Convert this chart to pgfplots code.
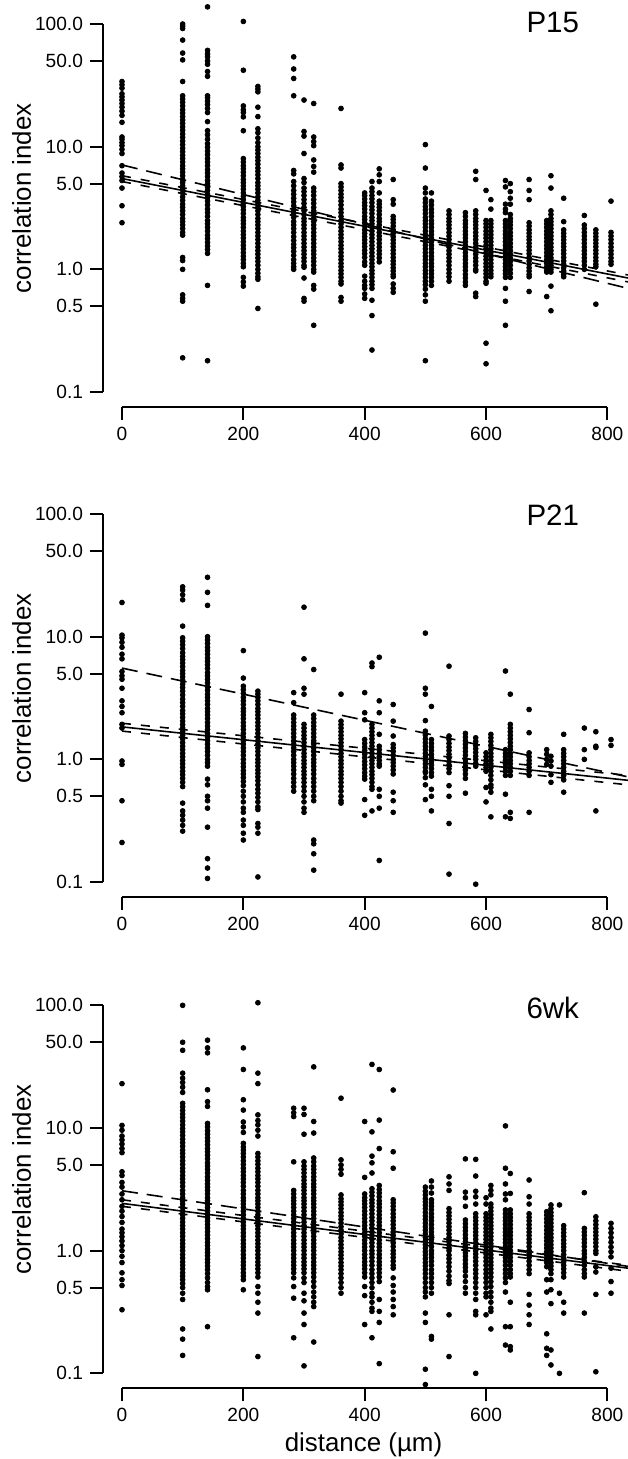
\documentclass[border=0pt]{standalone}
\usepackage{fontspec}
\setmainfont{Liberation Sans}
\usepackage{pgfplots}
\usepackage{pgfplotstable}
\pgfplotsset{compat=1.18}

% P15
\pgfplotstableread[row sep=\\]{
x y\\
0 34\\0 32\\0 30\\0 27\\0 25.5\\0 24\\0 22.5\\0 21\\0 19.5\\0 18\\0 15.8\\0 12\\0 11.5\\0 10.8\\0 10.2\\0 9.5\\0 8.8\\0 7\\0 6.1\\0 5.7\\0 5.3\\0 4.6\\0 3.3\\0 2.4\\
100 100\\100 96\\100 92\\100 74\\100 58\\100 51\\100 34\\100 26\\100 24.5\\100 23\\100 21.5\\100 20\\100 18.8\\100 17.6\\100 16.5\\100 15.5\\100 14.5\\100 13.6\\100 12.7\\100 11.9\\100 11.1\\100 10.4\\100 9.7\\100 9.1\\100 8.5\\100 8\\100 7.5\\100 7\\100 6.6\\100 6.2\\100 5.8\\100 5.4\\100 5.1\\100 4.8\\100 4.5\\100 4.2\\100 3.9\\100 3.65\\100 3.4\\100 3.2\\100 3\\100 2.8\\100 2.6\\100 2.45\\100 2.3\\100 2.15\\100 2\\100 1.9\\100 1.25\\100 1.18\\100 1.0\\100 0.62\\100 0.58\\100 0.55\\100 0.19\\
141 138\\141 61\\141 57\\141 54\\141 50\\141 47\\141 41\\141 37.5\\141 26\\141 25\\141 23.5\\141 22\\141 20.5\\141 19\\141 16\\141 13.5\\141 12.5\\141 11.5\\141 10.6\\141 9.9\\141 9.2\\141 8.6\\141 8\\141 7.5\\141 7\\141 6.5\\141 6.1\\141 5.7\\141 5.3\\141 5\\141 4.7\\141 4.4\\141 4.1\\141 3.85\\141 3.6\\141 3.35\\141 3.1\\141 2.9\\141 2.7\\141 2.5\\141 2.35\\141 2.2\\141 2.05\\141 1.9\\141 1.78\\141 1.66\\141 1.55\\141 1.45\\141 1.35\\141 0.74\\141 0.18\\
200 105\\200 42\\200 21.5\\200 20\\200 19\\200 17.5\\200 13.5\\200 8\\200 7.5\\200 7\\200 6.6\\200 6.2\\200 5.8\\200 5.4\\200 5.1\\200 4.8\\200 4.5\\200 4.2\\200 3.95\\200 3.7\\200 3.45\\200 3.25\\200 3.05\\200 2.85\\200 2.65\\200 2.5\\200 2.35\\200 2.2\\200 2.05\\200 1.92\\200 1.8\\200 1.68\\200 1.57\\200 1.47\\200 1.37\\200 1.28\\200 1.2\\200 1.12\\200 1.05\\200 0.86\\200 0.79\\200 0.73\\
224 31\\224 29.5\\224 28\\224 21\\224 17.6\\224 14\\224 13\\224 11.8\\224 10.8\\224 10\\224 9.4\\224 8.8\\224 8.2\\224 7.7\\224 7.2\\224 6.7\\224 6.3\\224 5.9\\224 5.5\\224 5.1\\224 4.8\\224 4.5\\224 4.2\\224 3.9\\224 3.65\\224 3.4\\224 3.2\\224 3\\224 2.8\\224 2.6\\224 2.45\\224 2.3\\224 2.15\\224 2\\224 1.87\\224 1.75\\224 1.63\\224 1.52\\224 1.42\\224 1.33\\224 1.24\\224 1.16\\224 1.08\\224 1.0\\224 0.93\\224 0.87\\224 0.83\\224 0.48\\
283 54\\283 43\\283 36\\283 26\\283 6.4\\283 6\\283 5.2\\283 4.8\\283 4.4\\283 4.1\\283 3.8\\283 3.55\\283 3.3\\283 3.05\\283 2.85\\283 2.65\\283 2.45\\283 2.3\\283 2.15\\283 2\\283 1.85\\283 1.72\\283 1.6\\283 1.5\\283 1.4\\283 1.3\\283 1.2\\283 1.12\\283 1.05\\283 1.0\\
300 24\\300 13.3\\300 12.2\\300 8.8\\300 5.5\\300 5.1\\300 4.6\\300 4.3\\300 4\\300 3.7\\300 3.45\\300 3.2\\300 3\\300 2.8\\300 2.6\\300 2.45\\300 2.3\\300 2.15\\300 2\\300 1.87\\300 1.75\\300 1.63\\300 1.52\\300 1.42\\300 1.33\\300 1.24\\300 1.16\\300 1.08\\300 1.04\\300 0.85\\300 0.58\\300 0.55\\
316 22.5\\316 12\\316 11\\316 10.2\\316 7.8\\316 6.9\\316 6.2\\316 4.6\\316 4.3\\316 4\\316 3.7\\316 3.45\\316 3.2\\316 3\\316 2.8\\316 2.6\\316 2.45\\316 2.3\\316 2.15\\316 2\\316 1.87\\316 1.75\\316 1.63\\316 1.52\\316 1.42\\316 1.33\\316 1.24\\316 1.16\\316 1.08\\316 1.0\\316 0.95\\316 0.74\\316 0.69\\316 0.35\\
361 20.5\\361 7.1\\361 6.7\\361 5\\361 4.7\\361 4.4\\361 4.1\\361 3.85\\361 3.6\\361 3.35\\361 3.1\\361 2.9\\361 2.7\\361 2.5\\361 2.35\\361 2.2\\361 2.05\\361 1.92\\361 1.8\\361 1.68\\361 1.57\\361 1.47\\361 1.37\\361 1.28\\361 1.2\\361 1.12\\361 1.05\\361 0.98\\361 0.92\\361 0.86\\361 0.8\\361 0.76\\361 0.59\\361 0.55\\
400 4.2\\400 4\\400 3.75\\400 3.5\\400 3.3\\400 3.1\\400 2.9\\400 2.7\\400 2.55\\400 2.4\\400 2.25\\400 2.1\\400 1.97\\400 1.85\\400 1.74\\400 1.63\\400 1.53\\400 1.43\\400 1.34\\400 1.25\\400 1.15\\400 1.08\\400 0.88\\400 0.8\\400 0.74\\400 0.7\\400 0.63\\400 0.58\\
412 5.2\\412 4.6\\412 4.3\\412 4\\412 3.75\\412 3.5\\412 3.25\\412 3.05\\412 2.85\\412 2.65\\412 2.5\\412 2.35\\412 2.2\\412 2.05\\412 1.92\\412 1.8\\412 1.68\\412 1.57\\412 1.47\\412 1.37\\412 1.28\\412 1.2\\412 1.12\\412 1.05\\412 0.98\\412 0.92\\412 0.86\\412 0.8\\412 0.75\\412 0.7\\412 0.56\\412 0.42\\412 0.22\\
424 6.6\\424 5.9\\424 5.2\\424 4.2\\424 3.6\\424 3.4\\424 3.2\\424 3\\424 2.8\\424 2.6\\424 2.45\\424 2.3\\424 2.15\\424 2\\424 1.87\\424 1.75\\424 1.63\\424 1.52\\424 1.42\\424 1.33\\424 1.24\\424 1.15\\
447 5.4\\447 3.7\\447 3.4\\447 2.7\\447 2.55\\447 2.4\\447 2.25\\447 2.1\\447 1.97\\447 1.85\\447 1.74\\447 1.63\\447 1.53\\447 1.43\\447 1.34\\447 1.25\\447 1.17\\447 1.1\\447 1.03\\447 0.97\\447 0.91\\447 0.87\\447 0.76\\447 0.7\\447 0.65\\
500 10.4\\500 6.7\\500 4.6\\500 4.2\\500 3.75\\500 3.5\\500 3.25\\500 3.05\\500 2.85\\500 2.65\\500 2.5\\500 2.35\\500 2.2\\500 2.05\\500 1.92\\500 1.8\\500 1.68\\500 1.57\\500 1.47\\500 1.37\\500 1.28\\500 1.2\\500 1.12\\500 1.05\\500 0.98\\500 0.92\\500 0.86\\500 0.8\\500 0.75\\500 0.69\\500 0.62\\500 0.55\\500 0.18\\
510 4.2\\510 3.6\\510 3.35\\510 3.1\\510 2.9\\510 2.7\\510 2.5\\510 2.35\\510 2.2\\510 2.05\\510 1.92\\510 1.8\\510 1.68\\510 1.57\\510 1.47\\510 1.37\\510 1.28\\510 1.2\\510 1.12\\510 1.05\\510 0.98\\510 0.92\\510 0.86\\510 0.8\\510 0.74\\
539 3\\539 2.8\\539 2.6\\539 2.45\\539 2.3\\539 2.15\\539 2\\539 1.87\\539 1.75\\539 1.63\\539 1.52\\539 1.42\\539 1.33\\539 1.24\\539 1.16\\539 1.08\\539 1.0\\539 0.93\\539 0.87\\539 0.8\\
566 2.9\\566 2.7\\566 2.5\\566 2.35\\566 2.2\\566 2.05\\566 1.92\\566 1.8\\566 1.68\\566 1.57\\566 1.47\\566 1.37\\566 1.28\\566 1.2\\566 1.12\\566 1.05\\566 0.98\\566 0.91\\566 0.85\\566 0.79\\566 0.74\\
583 6.3\\583 5.4\\583 3\\583 2.8\\583 2.6\\583 2.45\\583 2.3\\583 2.15\\583 2\\583 1.87\\583 1.75\\583 1.63\\583 1.52\\583 1.42\\583 1.33\\583 1.24\\583 1.16\\583 1.08\\583 1.0\\583 0.97\\583 0.64\\583 0.6\\
600 4.4\\600 2.5\\600 2.35\\600 2.2\\600 2.05\\600 1.92\\600 1.8\\600 1.68\\600 1.57\\600 1.47\\600 1.37\\600 1.28\\600 1.2\\600 1.12\\600 1.05\\600 0.98\\600 0.92\\600 0.86\\600 0.8\\600 0.77\\600 0.25\\600 0.17\\
608 3.7\\608 3.1\\608 2.5\\608 2.35\\608 2.2\\608 2.05\\608 1.92\\608 1.8\\608 1.68\\608 1.57\\608 1.47\\608 1.37\\608 1.28\\608 1.2\\608 1.12\\608 1.05\\608 0.98\\608 0.92\\608 0.87\\
632 5.3\\632 4.7\\632 3.4\\632 3.1\\632 2.9\\632 2.5\\632 2.35\\632 2.2\\632 2.05\\632 1.92\\632 1.8\\632 1.68\\632 1.57\\632 1.47\\632 1.37\\632 1.28\\632 1.2\\632 1.12\\632 1.05\\632 0.98\\632 0.92\\632 0.86\\632 0.7\\632 0.55\\632 0.35\\
640 5\\640 4.3\\640 3.8\\640 3.4\\640 2.8\\640 2.6\\640 2.45\\640 2.3\\640 2.15\\640 2\\640 1.87\\640 1.75\\640 1.63\\640 1.52\\640 1.42\\640 1.33\\640 1.24\\640 1.16\\640 1.08\\640 1.0\\640 0.93\\640 0.86\\
671 5.4\\671 4.4\\671 3.7\\671 2.4\\671 2.25\\671 2.1\\671 1.97\\671 1.85\\671 1.74\\671 1.63\\671 1.53\\671 1.43\\671 1.34\\671 1.25\\671 1.17\\671 1.1\\671 1.03\\671 0.97\\671 0.91\\671 0.87\\671 0.66\\
700 2.5\\700 2.35\\700 2.2\\700 2.05\\700 1.92\\700 1.8\\700 1.68\\700 1.57\\700 1.47\\700 1.37\\700 1.28\\700 1.2\\700 1.12\\700 1.05\\700 0.98\\700 0.95\\700 0.6\\
707 5.8\\707 4.6\\707 3\\707 2.8\\707 2.6\\707 2.45\\707 2.3\\707 2.15\\707 2\\707 1.87\\707 1.75\\707 1.63\\707 1.52\\707 1.42\\707 1.33\\707 1.24\\707 1.16\\707 1.08\\707 1.0\\707 0.95\\707 0.73\\707 0.46\\
728 3.8\\728 2.45\\728 2.1\\728 1.97\\728 1.85\\728 1.74\\728 1.63\\728 1.53\\728 1.43\\728 1.34\\728 1.25\\728 1.17\\728 1.1\\728 1.03\\728 0.97\\728 0.91\\728 0.87\\
762 2.75\\762 2.3\\762 2.15\\762 2\\762 1.87\\762 1.75\\762 1.63\\762 1.52\\762 1.42\\762 1.33\\762 1.24\\762 1.16\\762 1.08\\762 1.0\\
781 2.1\\781 1.97\\781 1.85\\781 1.74\\781 1.63\\781 1.53\\781 1.43\\781 1.34\\781 1.25\\781 1.17\\781 1.1\\781 1.05\\781 0.52\\
806 3.6\\806 2\\806 1.87\\806 1.75\\806 1.63\\806 1.52\\806 1.42\\806 1.33\\806 1.24\\806 1.16\\806 1.1\\
}\pA

% P21
\pgfplotstableread[row sep=\\]{
x y\\
0 19\\0 10.3\\0 9.8\\0 9\\0 8.2\\0 7.2\\0 6.6\\0 5.2\\0 4.8\\0 4.5\\0 3.8\\0 3\\0 2.7\\0 2.4\\0 1.93\\0 1.8\\0 0.97\\0 0.91\\0 0.46\\0 0.21\\
100 25.5\\100 24\\100 22\\100 20\\100 12.2\\100 9.8\\100 9.2\\100 8.6\\100 8\\100 7.4\\100 6.9\\100 6.5\\100 6.1\\100 5.7\\100 5.3\\100 5\\100 4.7\\100 4.4\\100 4.1\\100 3.85\\100 3.6\\100 3.35\\100 3.1\\100 2.9\\100 2.7\\100 2.5\\100 2.35\\100 2.2\\100 2.05\\100 1.92\\100 1.8\\100 1.68\\100 1.57\\100 1.47\\100 1.37\\100 1.28\\100 1.2\\100 1.12\\100 1.05\\100 0.98\\100 0.92\\100 0.86\\100 0.8\\100 0.75\\100 0.7\\100 0.65\\100 0.6\\100 0.44\\100 0.38\\100 0.35\\100 0.32\\100 0.29\\100 0.26\\
141 30.5\\141 23\\141 18\\141 10\\141 9.4\\141 8.8\\141 8.2\\141 7.7\\141 7.2\\141 6.7\\141 6.3\\141 5.9\\141 5.5\\141 5.1\\141 4.8\\141 4.5\\141 4.2\\141 3.9\\141 3.65\\141 3.4\\141 3.2\\141 3\\141 2.8\\141 2.6\\141 2.45\\141 2.3\\141 2.15\\141 2\\141 1.87\\141 1.75\\141 1.63\\141 1.52\\141 1.42\\141 1.33\\141 1.24\\141 1.16\\141 1.08\\141 1.0\\141 0.94\\141 0.88\\141 0.69\\141 0.62\\141 0.5\\141 0.46\\141 0.4\\141 0.28\\141 0.155\\141 0.13\\141 0.107\\
200 7.7\\200 4.6\\200 3.95\\200 3.7\\200 3.45\\200 3.2\\200 3\\200 2.8\\200 2.6\\200 2.45\\200 2.3\\200 2.15\\200 2\\200 1.87\\200 1.75\\200 1.63\\200 1.52\\200 1.42\\200 1.33\\200 1.24\\200 1.16\\200 1.08\\200 1.0\\200 0.93\\200 0.87\\200 0.81\\200 0.76\\200 0.71\\200 0.66\\200 0.61\\200 0.55\\200 0.5\\200 0.45\\200 0.4\\200 0.37\\200 0.32\\200 0.29\\200 0.25\\200 0.22\\
224 3.6\\224 3.4\\224 3.2\\224 3\\224 2.8\\224 2.6\\224 2.45\\224 2.3\\224 2.15\\224 2\\224 1.87\\224 1.75\\224 1.63\\224 1.52\\224 1.42\\224 1.33\\224 1.24\\224 1.16\\224 1.08\\224 1.0\\224 0.94\\224 0.88\\224 0.82\\224 0.77\\224 0.72\\224 0.67\\224 0.62\\224 0.57\\224 0.53\\224 0.49\\224 0.45\\224 0.41\\224 0.39\\224 0.3\\224 0.28\\224 0.25\\224 0.11\\
283 3.5\\283 2.9\\283 2.3\\283 2.15\\283 2\\283 1.87\\283 1.75\\283 1.63\\283 1.52\\283 1.42\\283 1.33\\283 1.24\\283 1.16\\283 1.08\\283 1.0\\283 0.94\\283 0.88\\283 0.82\\283 0.76\\283 0.7\\283 0.65\\283 0.6\\283 0.55\\
300 17.4\\300 6.6\\300 3.8\\300 3.4\\300 1.93\\300 1.8\\300 1.68\\300 1.57\\300 1.47\\300 1.37\\300 1.28\\300 1.2\\300 1.12\\300 1.05\\300 0.98\\300 0.92\\300 0.86\\300 0.8\\300 0.75\\300 0.7\\300 0.65\\300 0.6\\300 0.55\\300 0.5\\300 0.45\\300 0.4\\300 0.37\\
316 5.4\\316 2.3\\316 2.15\\316 2\\316 1.87\\316 1.75\\316 1.63\\316 1.52\\316 1.42\\316 1.33\\316 1.24\\316 1.16\\316 1.08\\316 1.0\\316 0.94\\316 0.88\\316 0.82\\316 0.76\\316 0.7\\316 0.65\\316 0.6\\316 0.55\\316 0.5\\316 0.46\\316 0.22\\316 0.205\\316 0.17\\316 0.125\\
361 3.4\\361 2.05\\361 1.92\\361 1.8\\361 1.68\\361 1.57\\361 1.47\\361 1.37\\361 1.28\\361 1.2\\361 1.12\\361 1.05\\361 0.98\\361 0.92\\361 0.86\\361 0.8\\361 0.75\\361 0.7\\361 0.65\\361 0.6\\361 0.55\\361 0.5\\361 0.46\\361 0.44\\
400 3.5\\400 2.4\\400 2.1\\400 1.45\\400 1.35\\400 1.26\\400 1.18\\400 1.1\\400 1.03\\400 0.96\\400 0.9\\400 0.84\\400 0.78\\400 0.73\\400 0.69\\400 0.47\\400 0.35\\
412 6.1\\412 5.7\\412 1.93\\412 1.8\\412 1.68\\412 1.57\\412 1.47\\412 1.37\\412 1.28\\412 1.2\\412 1.12\\412 1.05\\412 0.98\\412 0.92\\412 0.86\\412 0.8\\412 0.75\\412 0.7\\412 0.65\\412 0.6\\412 0.57\\412 0.38\\
424 6.8\\424 3\\424 2.4\\424 1.6\\424 1.28\\424 1.2\\424 1.12\\424 1.05\\424 0.98\\424 0.92\\424 0.88\\424 0.57\\424 0.5\\424 0.4\\424 0.15\\
447 2.8\\447 2.05\\447 1.55\\447 1.32\\447 1.24\\447 1.16\\447 1.08\\447 1.0\\447 0.94\\447 0.88\\447 0.82\\447 0.76\\447 0.54\\447 0.46\\447 0.37\\
500 10.7\\500 3.8\\500 3.4\\500 2.07\\500 1.7\\500 1.58\\500 1.47\\500 1.37\\500 1.28\\500 1.2\\500 1.12\\500 1.05\\500 0.98\\500 0.92\\500 0.86\\500 0.8\\500 0.78\\500 0.71\\500 0.62\\500 0.47\\
510 2.7\\510 1.45\\510 1.35\\510 1.26\\510 1.18\\510 1.1\\510 1.03\\510 0.96\\510 0.9\\510 0.84\\510 0.78\\510 0.73\\510 0.57\\510 0.5\\510 0.38\\
539 5.75\\539 1.55\\539 1.45\\539 1.35\\539 1.26\\539 1.18\\539 1.1\\539 1.03\\539 0.96\\539 0.9\\539 0.84\\539 0.78\\539 0.61\\539 0.5\\539 0.3\\539 0.116\\
566 1.63\\566 1.52\\566 1.42\\566 1.33\\566 1.24\\566 1.16\\566 1.08\\566 1.0\\566 0.94\\566 0.88\\566 0.82\\566 0.76\\566 0.7\\566 0.53\\
583 1.5\\583 1.4\\583 1.3\\583 1.22\\583 1.14\\583 1.06\\583 1.0\\583 0.93\\583 0.88\\583 0.096\\
600 1.13\\600 1.05\\600 0.98\\600 0.92\\600 0.86\\600 0.8\\600 0.59\\600 0.45\\
608 1.6\\608 1.5\\608 1.4\\608 1.3\\608 1.2\\608 1.12\\608 1.05\\608 0.98\\608 0.92\\608 0.86\\608 0.8\\608 0.74\\608 0.68\\608 0.62\\608 0.59\\608 0.54\\608 0.34\\
632 5.25\\632 1.2\\632 1.12\\632 1.05\\632 0.98\\632 0.92\\632 0.86\\632 0.8\\632 0.74\\632 0.52\\632 0.34\\
640 3.4\\640 1.93\\640 1.8\\640 1.68\\640 1.57\\640 1.47\\640 1.37\\640 1.28\\640 1.2\\640 1.12\\640 1.05\\640 0.98\\640 0.92\\640 0.86\\640 0.8\\640 0.74\\640 0.37\\640 0.33\\
671 2.55\\671 1.65\\671 1.13\\671 1.05\\671 0.98\\671 0.92\\671 0.86\\671 0.8\\671 0.74\\671 0.37\\
700 1.2\\700 1.1\\700 1.0\\700 0.91\\
707 1.06\\707 0.97\\707 0.88\\707 0.75\\707 0.65\\
728 1.6\\728 1.2\\728 1.12\\728 1.05\\728 0.98\\728 0.92\\728 0.86\\728 0.8\\728 0.74\\728 0.68\\728 0.54\\
762 1.8\\762 1.2\\762 1.0\\
781 1.68\\781 1.28\\781 1.25\\781 0.38\\
806 1.45\\806 1.3\\
}\pB

% 6wk
\pgfplotstableread[row sep=\\]{
x y\\
0 23\\0 10.5\\0 9.6\\0 8.6\\0 8\\0 7.4\\0 6.8\\0 6.3\\0 4.4\\0 4.1\\0 3.6\\0 3.3\\0 2.9\\0 2.6\\0 2.3\\0 2.1\\0 1.9\\0 1.7\\0 1.5\\0 1.4\\0 1.3\\0 1.2\\0 1.1\\0 1.0\\0 0.9\\0 0.8\\0 0.66\\0 0.58\\0 0.52\\0 0.33\\
100 100\\100 50\\100 43\\100 28\\100 25.5\\100 23.5\\100 21.5\\100 19.5\\100 15.9\\100 14.9\\100 13.9\\100 13\\100 12.2\\100 11.4\\100 10.6\\100 9.9\\100 9.3\\100 8.7\\100 8.1\\100 7.6\\100 7.1\\100 6.6\\100 6.2\\100 5.8\\100 5.4\\100 5.05\\100 4.7\\100 4.4\\100 4.1\\100 3.85\\100 3.6\\100 3.35\\100 3.1\\100 2.9\\100 2.7\\100 2.55\\100 2.4\\100 2.25\\100 2.1\\100 1.96\\100 1.83\\100 1.71\\100 1.6\\100 1.5\\100 1.4\\100 1.31\\100 1.22\\100 1.14\\100 1.07\\100 1.0\\100 0.93\\100 0.87\\100 0.81\\100 0.76\\100 0.71\\100 0.66\\100 0.62\\100 0.58\\100 0.54\\100 0.5\\100 0.45\\100 0.4\\100 0.23\\100 0.19\\100 0.14\\
141 52\\141 45\\141 41\\141 20.5\\141 16.4\\141 15\\141 10.9\\141 10.2\\141 9.5\\141 8.9\\141 8.3\\141 7.8\\141 7.3\\141 6.8\\141 6.4\\141 6\\141 5.6\\141 5.2\\141 4.9\\141 4.6\\141 4.3\\141 4\\141 3.75\\141 3.5\\141 3.3\\141 3.1\\141 2.9\\141 2.7\\141 2.55\\141 2.4\\141 2.25\\141 2.1\\141 1.97\\141 1.85\\141 1.74\\141 1.63\\141 1.53\\141 1.43\\141 1.34\\141 1.25\\141 1.17\\141 1.1\\141 1.03\\141 0.97\\141 0.91\\141 0.85\\141 0.8\\141 0.75\\141 0.7\\141 0.65\\141 0.6\\141 0.55\\141 0.51\\141 0.48\\141 0.24\\
200 45\\200 30\\200 17\\200 14\\200 11.2\\200 10.2\\200 9.2\\200 7.5\\200 7\\200 6.6\\200 6.2\\200 5.8\\200 5.4\\200 5.05\\200 4.7\\200 4.4\\200 4.1\\200 3.85\\200 3.6\\200 3.35\\200 3.1\\200 2.9\\200 2.7\\200 2.55\\200 2.4\\200 2.25\\200 2.1\\200 1.96\\200 1.83\\200 1.71\\200 1.6\\200 1.5\\200 1.4\\200 1.31\\200 1.22\\200 1.14\\200 1.07\\200 1.0\\200 0.93\\200 0.87\\200 0.81\\200 0.76\\200 0.71\\200 0.66\\200 0.62\\200 0.58\\200 0.48\\
224 105\\224 28\\224 23\\224 12.8\\224 11.5\\224 10.6\\224 9.6\\224 8.6\\224 6.2\\224 5.8\\224 5.4\\224 5.05\\224 4.7\\224 4.4\\224 4.1\\224 3.85\\224 3.6\\224 3.35\\224 3.1\\224 2.9\\224 2.7\\224 2.55\\224 2.4\\224 2.25\\224 2.1\\224 1.96\\224 1.83\\224 1.71\\224 1.6\\224 1.5\\224 1.4\\224 1.31\\224 1.22\\224 1.14\\224 1.07\\224 1.0\\224 0.93\\224 0.87\\224 0.81\\224 0.76\\224 0.71\\224 0.66\\224 0.61\\224 0.51\\224 0.45\\224 0.38\\224 0.31\\224 0.137\\
283 14.5\\283 13.3\\283 12.4\\283 5.3\\283 3.1\\283 2.9\\283 2.7\\283 2.55\\283 2.4\\283 2.25\\283 2.1\\283 1.96\\283 1.83\\283 1.71\\283 1.6\\283 1.5\\283 1.4\\283 1.31\\283 1.22\\283 1.14\\283 1.07\\283 1.0\\283 0.93\\283 0.87\\283 0.81\\283 0.76\\283 0.71\\283 0.66\\283 0.6\\283 0.51\\283 0.41\\283 0.195\\
300 14.5\\300 12.9\\300 8.9\\300 5.3\\300 4.9\\300 4.6\\300 4.3\\300 4\\300 3.75\\300 3.5\\300 3.3\\300 3.1\\300 2.9\\300 2.7\\300 2.55\\300 2.4\\300 2.25\\300 2.1\\300 1.96\\300 1.83\\300 1.71\\300 1.6\\300 1.5\\300 1.4\\300 1.31\\300 1.22\\300 1.14\\300 1.07\\300 1.0\\300 0.93\\300 0.87\\300 0.81\\300 0.76\\300 0.71\\300 0.66\\300 0.6\\300 0.55\\300 0.45\\300 0.39\\300 0.31\\300 0.25\\300 0.115\\
316 31.5\\316 11.3\\316 9.1\\316 5.7\\316 5.3\\316 4.9\\316 4.6\\316 4.3\\316 4\\316 3.75\\316 3.5\\316 3.3\\316 3.1\\316 2.9\\316 2.7\\316 2.55\\316 2.4\\316 2.25\\316 2.1\\316 1.96\\316 1.83\\316 1.71\\316 1.6\\316 1.5\\316 1.4\\316 1.31\\316 1.22\\316 1.14\\316 1.07\\316 1.0\\316 0.93\\316 0.87\\316 0.81\\316 0.76\\316 0.71\\316 0.66\\316 0.61\\316 0.56\\316 0.51\\316 0.46\\316 0.42\\316 0.38\\316 0.35\\316 0.18\\
361 17.5\\361 5.5\\361 5\\361 4.6\\361 4.2\\361 2.85\\361 2.65\\361 2.5\\361 2.35\\361 2.2\\361 2.05\\361 1.92\\361 1.8\\361 1.68\\361 1.57\\361 1.47\\361 1.37\\361 1.28\\361 1.2\\361 1.12\\361 1.05\\361 0.98\\361 0.92\\361 0.86\\361 0.8\\361 0.75\\361 0.7\\361 0.65\\361 0.6\\361 0.55\\361 0.5\\361 0.45\\
400 11.3\\400 3.96\\400 2.9\\400 2.7\\400 2.55\\400 2.4\\400 2.25\\400 2.1\\400 1.96\\400 1.83\\400 1.71\\400 1.6\\400 1.5\\400 1.4\\400 1.31\\400 1.22\\400 1.14\\400 1.07\\400 1.0\\400 0.93\\400 0.87\\400 0.81\\400 0.76\\400 0.71\\400 0.66\\400 0.61\\400 0.51\\400 0.43\\400 0.25\\
412 33\\412 9.3\\412 5.9\\412 5.2\\412 4.3\\412 3.2\\412 3\\412 2.8\\412 2.6\\412 2.45\\412 2.3\\412 2.15\\412 2\\412 1.87\\412 1.75\\412 1.63\\412 1.52\\412 1.42\\412 1.33\\412 1.24\\412 1.16\\412 1.08\\412 1.0\\412 0.94\\412 0.88\\412 0.82\\412 0.76\\412 0.7\\412 0.65\\412 0.6\\412 0.55\\412 0.5\\412 0.45\\412 0.42\\412 0.38\\412 0.34\\412 0.32\\412 0.195\\
424 30\\424 11.6\\424 6.8\\424 3.4\\424 3.15\\424 2.95\\424 2.75\\424 2.55\\424 2.4\\424 2.25\\424 2.1\\424 1.96\\424 1.83\\424 1.71\\424 1.6\\424 1.5\\424 1.4\\424 1.31\\424 1.22\\424 1.14\\424 1.07\\424 1.0\\424 0.93\\424 0.87\\424 0.81\\424 0.76\\424 0.71\\424 0.66\\424 0.61\\424 0.56\\424 0.4\\424 0.32\\424 0.26\\424 0.12\\
447 20.4\\447 6.4\\447 4.7\\447 2.6\\447 2.45\\447 2.3\\447 2.15\\447 2\\447 1.87\\447 1.75\\447 1.63\\447 1.52\\447 1.42\\447 1.33\\447 1.24\\447 1.16\\447 1.08\\447 1.0\\447 0.94\\447 0.88\\447 0.82\\447 0.76\\447 0.72\\447 0.6\\447 0.52\\447 0.46\\447 0.4\\447 0.35\\447 0.3\\
500 3.3\\500 3.05\\500 2.85\\500 2.65\\500 2.5\\500 2.35\\500 2.2\\500 2.05\\500 1.92\\500 1.8\\500 1.68\\500 1.57\\500 1.47\\500 1.37\\500 1.28\\500 1.2\\500 1.12\\500 1.05\\500 0.98\\500 0.92\\500 0.86\\500 0.8\\500 0.75\\500 0.7\\500 0.65\\500 0.6\\500 0.55\\500 0.5\\500 0.46\\500 0.42\\500 0.31\\500 0.26\\500 0.108\\500 0.081\\
510 3.7\\510 3.3\\510 2.95\\510 2.6\\510 2.45\\510 2.3\\510 2.15\\510 2\\510 1.87\\510 1.75\\510 1.63\\510 1.52\\510 1.42\\510 1.33\\510 1.24\\510 1.16\\510 1.08\\510 1.0\\510 0.94\\510 0.88\\510 0.82\\510 0.76\\510 0.7\\510 0.65\\510 0.6\\510 0.55\\510 0.5\\510 0.45\\510 0.2\\510 0.19\\
539 4\\539 3.5\\539 3.1\\539 2.2\\539 2.05\\539 1.92\\539 1.8\\539 1.68\\539 1.57\\539 1.47\\539 1.37\\539 1.28\\539 1.2\\539 1.12\\539 1.05\\539 1.0\\539 0.92\\539 0.86\\539 0.8\\539 0.74\\539 0.68\\539 0.62\\539 0.57\\539 0.54\\539 0.3\\539 0.137\\
566 5.6\\566 3\\566 2.7\\566 2.3\\566 1.78\\566 1.66\\566 1.55\\566 1.45\\566 1.35\\566 1.26\\566 1.18\\566 1.1\\566 1.03\\566 0.96\\566 0.9\\566 0.84\\566 0.78\\566 0.73\\566 0.68\\566 0.62\\566 0.56\\566 0.5\\566 0.45\\
583 5.55\\583 4.06\\583 3.05\\583 2.75\\583 2.4\\583 2\\583 1.87\\583 1.75\\583 1.63\\583 1.52\\583 1.42\\583 1.33\\583 1.24\\583 1.16\\583 1.08\\583 1.0\\583 0.94\\583 0.88\\583 0.82\\583 0.76\\583 0.7\\583 0.65\\583 0.6\\583 0.55\\583 0.5\\583 0.45\\583 0.4\\583 0.32\\583 0.3\\583 0.1\\
600 2.7\\600 2.4\\600 2\\600 1.87\\600 1.75\\600 1.63\\600 1.52\\600 1.42\\600 1.33\\600 1.24\\600 1.16\\600 1.08\\600 1.0\\600 0.94\\600 0.88\\600 0.82\\600 0.76\\600 0.7\\600 0.65\\600 0.6\\600 0.55\\600 0.5\\600 0.45\\600 0.42\\600 0.3\\
608 3.4\\608 3.1\\608 2.85\\608 2.4\\608 2.25\\608 2.1\\608 1.96\\608 1.83\\608 1.71\\608 1.6\\608 1.5\\608 1.4\\608 1.31\\608 1.22\\608 1.14\\608 1.07\\608 1.0\\608 0.93\\608 0.87\\608 0.81\\608 0.76\\608 0.71\\608 0.66\\608 0.61\\608 0.56\\608 0.51\\608 0.46\\608 0.42\\608 0.38\\608 0.34\\608 0.32\\608 0.23\\
632 10.4\\632 4.7\\632 3.5\\632 2.9\\632 2.6\\632 2.15\\632 2\\632 1.87\\632 1.75\\632 1.63\\632 1.52\\632 1.42\\632 1.33\\632 1.24\\632 1.16\\632 1.08\\632 1.0\\632 0.94\\632 0.88\\632 0.82\\632 0.76\\632 0.7\\632 0.65\\632 0.6\\632 0.55\\632 0.46\\632 0.24\\632 0.17\\
640 4.26\\640 2.93\\640 2.15\\640 2\\640 1.87\\640 1.75\\640 1.63\\640 1.52\\640 1.42\\640 1.33\\640 1.24\\640 1.16\\640 1.08\\640 1.0\\640 0.94\\640 0.88\\640 0.82\\640 0.76\\640 0.7\\640 0.65\\640 0.61\\640 0.38\\640 0.24\\640 0.165\\640 0.155\\
671 3.77\\671 2.75\\671 2.4\\671 2\\671 1.87\\671 1.75\\671 1.63\\671 1.52\\671 1.42\\671 1.33\\671 1.24\\671 1.16\\671 1.08\\671 1.0\\671 0.94\\671 0.88\\671 0.82\\671 0.76\\671 0.7\\671 0.65\\671 0.44\\671 0.36\\671 0.3\\671 0.25\\
700 2.08\\700 1.95\\700 1.82\\700 1.7\\700 1.58\\700 1.47\\700 1.37\\700 1.28\\700 1.2\\700 1.12\\700 1.05\\700 0.98\\700 0.92\\700 0.86\\700 0.8\\700 0.74\\700 0.58\\700 0.46\\700 0.21\\700 0.16\\700 0.14\\
707 2.36\\707 2.2\\707 2.05\\707 1.92\\707 1.8\\707 1.68\\707 1.57\\707 1.47\\707 1.37\\707 1.28\\707 1.2\\707 1.12\\707 1.05\\707 0.98\\707 0.92\\707 0.86\\707 0.8\\707 0.75\\707 0.7\\707 0.65\\707 0.58\\707 0.48\\707 0.37\\707 0.155\\707 0.117\\
721 2.36\\721 0.45\\721 0.1\\
728 1.6\\728 1.5\\728 1.4\\728 1.31\\728 1.22\\728 1.14\\728 1.07\\728 1.0\\728 0.93\\728 0.87\\728 0.81\\728 0.76\\728 0.71\\728 0.66\\728 0.61\\728 0.38\\728 0.31\\
762 2.97\\762 1.52\\762 1.42\\762 1.33\\762 1.24\\762 1.16\\762 1.08\\762 1.0\\762 0.94\\762 0.88\\762 0.82\\762 0.76\\762 0.7\\762 0.65\\762 0.61\\762 0.31\\
781 1.89\\781 1.75\\781 1.63\\781 1.52\\781 1.42\\781 1.33\\781 1.24\\781 1.16\\781 1.08\\781 1.0\\781 0.95\\781 0.74\\781 0.67\\781 0.44\\781 0.103\\
806 1.67\\806 1.52\\806 1.4\\806 1.28\\806 1.17\\806 1.07\\806 0.98\\806 0.89\\806 0.72\\806 0.56\\806 0.45\\
}\pC

\tikzset{
  axframe/.style={line width=1bp, black},
}

\begin{document}
\begin{tikzpicture}
\path[use as bounding box] (0,0) rectangle (314bp,-729.5bp);

% ---------- P15 ----------
\begin{semilogyaxis}[
    at={(51.5bp,0bp)}, anchor=north west,
    scale only axis, width=262.5bp, height=203.5bp,
    xmin=-31.3, xmax=834, ymin=0.0755, ymax=157,
    axis lines*=left, axis line style={draw=none},
    tick align=outside, major tick length=6.5bp,
    yminorticks=false, xminorticks=false,
    tick style={black, line width=1bp},
    xtick={0,200,400,600,800}, xticklabels={0,200,400,600,800},
    ytick={0.1,0.5,1,5,10,50,100},
    yticklabels={0.1,0.5,1.0,5.0,10.0,50.0,100.0},
    tick label style={font=\fontsize{9.6}{11}\selectfont},
    ylabel={correlation index},
    ylabel style={at={(axis description cs:-0.155,0.513)}, anchor=center,
      font=\fontsize{13}{15}\selectfont},
    clip=false,
  ]
  \addplot[only marks, mark=*, mark size=1.2bp, black] table[x=x, y=y] {\pA};
  \addplot[black, line width=0.8bp, no marks] coordinates {(0,5.5) (834,0.85)};
  \addplot[black, line width=0.8bp, no marks, dash pattern=on 8bp off 4.5bp] coordinates {(0,7.1) (834,0.70)};
  \addplot[black, line width=0.8bp, no marks, dash pattern=on 4.5bp off 5bp] coordinates {(0,5.8) (834,0.9)};
  \addplot[black, line width=0.8bp, no marks, dash pattern=on 4.5bp off 5bp] coordinates {(0,5.2) (834,0.79)};
  \draw[axframe] (axis cs:-31.3,0.1) -- (axis cs:-31.3,100);
  \draw[axframe] (axis cs:0,0.0755) -- (axis cs:800,0.0755);
  \node[font=\fontsize{14.8}{17}\selectfont] at (axis cs:710,102) {P15};
\end{semilogyaxis}

% ---------- P21 ----------
\begin{semilogyaxis}[
    at={(51.5bp,-245bp)}, anchor=north west,
    scale only axis, width=262.5bp, height=203.5bp,
    xmin=-31.3, xmax=834, ymin=0.0755, ymax=157,
    axis lines*=left, axis line style={draw=none},
    tick align=outside, major tick length=6.5bp,
    yminorticks=false, xminorticks=false,
    tick style={black, line width=1bp},
    xtick={0,200,400,600,800}, xticklabels={0,200,400,600,800},
    ytick={0.1,0.5,1,5,10,50,100},
    yticklabels={0.1,0.5,1.0,5.0,10.0,50.0,100.0},
    tick label style={font=\fontsize{9.6}{11}\selectfont},
    ylabel={correlation index},
    ylabel style={at={(axis description cs:-0.155,0.513)}, anchor=center,
      font=\fontsize{13}{15}\selectfont},
    clip=false,
  ]
  \addplot[only marks, mark=*, mark size=1.2bp, black] table[x=x, y=y] {\pB};
  \addplot[black, line width=0.8bp, no marks] coordinates {(0,1.84) (834,0.675)};
  \addplot[black, line width=0.8bp, no marks, dash pattern=on 8bp off 4.5bp] coordinates {(0,5.55) (834,0.72)};
  \addplot[black, line width=0.8bp, no marks, dash pattern=on 4.5bp off 5bp] coordinates {(0,1.97) (834,0.74)};
  \addplot[black, line width=0.8bp, no marks, dash pattern=on 4.5bp off 5bp] coordinates {(0,1.7) (834,0.62)};
  \draw[axframe] (axis cs:-31.3,0.1) -- (axis cs:-31.3,100);
  \draw[axframe] (axis cs:0,0.0755) -- (axis cs:800,0.0755);
  \node[font=\fontsize{14.8}{17}\selectfont] at (axis cs:710,98) {P21};
\end{semilogyaxis}

% ---------- 6wk ----------
\begin{semilogyaxis}[
    at={(51.5bp,-490.65bp)}, anchor=north west,
    scale only axis, width=262.5bp, height=203.5bp,
    xmin=-31.3, xmax=834, ymin=0.0755, ymax=157,
    axis lines*=left, axis line style={draw=none},
    tick align=outside, major tick length=6.5bp,
    yminorticks=false, xminorticks=false,
    tick style={black, line width=1bp},
    xtick={0,200,400,600,800}, xticklabels={0,200,400,600,800},
    ytick={0.1,0.5,1,5,10,50,100},
    yticklabels={0.1,0.5,1.0,5.0,10.0,50.0,100.0},
    tick label style={font=\fontsize{9.6}{11}\selectfont},
    ylabel={correlation index},
    ylabel style={at={(axis description cs:-0.155,0.513)}, anchor=center,
      font=\fontsize{13}{15}\selectfont},
    clip=false,
  ]
  \addplot[only marks, mark=*, mark size=1.2bp, black] table[x=x, y=y] {\pC};
  \addplot[black, line width=0.8bp, no marks] coordinates {(0,2.43) (834,0.72)};
  \addplot[black, line width=0.8bp, no marks, dash pattern=on 8bp off 4.5bp] coordinates {(0,3.08) (834,0.745)};
  \addplot[black, line width=0.8bp, no marks, dash pattern=on 4.5bp off 5bp] coordinates {(0,2.6) (834,0.76)};
  \addplot[black, line width=0.8bp, no marks, dash pattern=on 4.5bp off 5bp] coordinates {(0,2.3) (834,0.68)};
  \draw[axframe] (axis cs:-31.3,0.1) -- (axis cs:-31.3,100);
  \draw[axframe] (axis cs:0,0.0755) -- (axis cs:800,0.0755);
  \node[font=\fontsize{14.8}{17}\selectfont] at (axis cs:710,95) {6wk};
\end{semilogyaxis}

\node[font=\fontsize{13}{15}\selectfont] at (181.75bp,-722.5bp) {distance (µm)};
\end{tikzpicture}
\end{document}
